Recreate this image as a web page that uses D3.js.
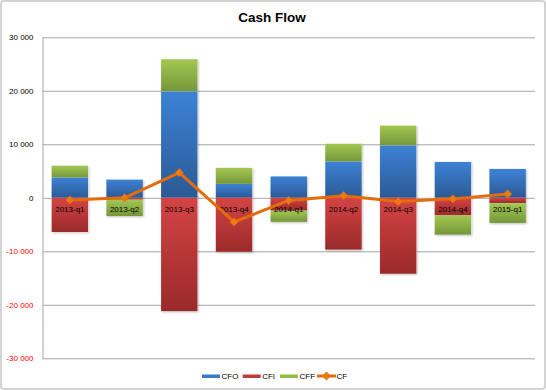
<!DOCTYPE html>
<html>
<head>
<meta charset="utf-8">
<script src="https://cdn.jsdelivr.net/npm/d3@7"></script>
<style>
  html, body { margin: 0; padding: 0; background: #fff; }
  svg { display: block; font-family: "Liberation Sans", Arial, sans-serif; }
</style>
</head>
<body>
<div id="chart"></div>
<script>
const categories = ["2013-q1","2013-q2","2013-q3","2013-q4","2014-q1","2014-q2","2014-q3","2014-q4","2015-q1"];
const cfo = [3800, 3400, 19900, 2600, 4000, 6800, 9800, 6700, 5400];
const cfi = [-6400, -350, -21200, -10100, -2400, -9700, -14200, -3300, -1000];
const cff = [2200, -3050, 6000, 3000, -2100, 3300, 3700, -3600, -3700];
const cf  = [-400, 0, 4700, -4500, -500, 400, -700, -200, 700];
const yTicks = [-30000, -20000, -10000, 0, 10000, 20000, 30000];
const seriesNames = ["CFO", "CFI", "CFF", "CF"];

const W = 546, H = 390;
const margin = { left: 42.5, right: 11, top: 37.3, bottom: 31.7 };
const innerW = W - margin.left - margin.right;
const innerH = H - margin.top - margin.bottom;

const svg = d3.select("#chart").append("svg").attr("width", W).attr("height", H);

// gradients
const defs = svg.append("defs");
const grads = {
  CFO: ["#3d82d6", "#2b5a95"],
  CFI: ["#d44444", "#9a2a2a"],
  CFF: ["#a2c852", "#76973a"]
};
Object.entries(grads).forEach(([k, c]) => {
  const g = defs.append("linearGradient").attr("id", "g" + k)
    .attr("x1", 0).attr("y1", 0).attr("x2", 0).attr("y2", 1);
  g.append("stop").attr("offset", "0%").attr("stop-color", c[0]);
  g.append("stop").attr("offset", "100%").attr("stop-color", c[1]);
});
const shadow = defs.append("filter").attr("id", "sh").attr("x", "-10%").attr("y", "-10%").attr("width", "130%").attr("height", "130%");
shadow.append("feDropShadow").attr("dx", 1).attr("dy", 1).attr("stdDeviation", 0.8).attr("flood-color", "#000").attr("flood-opacity", 0.25);

// outer border
svg.append("rect").attr("x", 1).attr("y", 1).attr("width", W - 2).attr("height", H - 2)
  .attr("rx", 3).attr("fill", "#fff").attr("stroke", "#d4d4d4").attr("stroke-width", 2);

// title
svg.append("text").attr("x", 272).attr("y", 22).attr("text-anchor", "middle")
  .attr("font-size", 13.5).attr("font-weight", "bold").attr("fill", "#000").text("Cash Flow");

const g = svg.append("g").attr("transform", `translate(${margin.left},${margin.top})`);

const x = d3.scaleBand().domain(categories).range([0, innerW]).paddingInner(1/3).paddingOuter(1/6);
const y = d3.scaleLinear().domain([-30000, 30000]).range([innerH, 0]);

const locale = d3.formatLocale({ decimal: ".", thousands: " ", grouping: [3], currency: ["", ""], minus: "-" });
const fmt = locale.format(",");

// gridlines
const grid = g.append("g").call(d3.axisLeft(y).tickValues(yTicks).tickSize(-innerW).tickFormat(""));
grid.select(".domain").remove();
grid.selectAll("line").attr("stroke", "#a6a6a6").attr("stroke-width", 1);

// y axis
const ya = g.append("g").call(d3.axisLeft(y).tickValues(yTicks).tickSize(0).tickPadding(9).tickFormat(fmt));
ya.select(".domain").attr("stroke", "#a6a6a6");
ya.selectAll("text").attr("font-size", 8).attr("font-family", "Liberation Sans, Arial, sans-serif")
  .attr("fill", d => d < 0 ? "#ff0000" : "#000");

// stacked bars (Excel-style: positives stack up, negatives stack down)
const series = [
  { name: "CFO", values: cfo },
  { name: "CFI", values: cfi },
  { name: "CFF", values: cff }
];
const segs = [];
categories.forEach((c, i) => {
  let pos = 0, neg = 0;
  series.forEach(s => {
    const v = s.values[i];
    let y0, y1;
    if (v >= 0) { y0 = pos; y1 = pos + v; pos = y1; }
    else { y0 = neg; y1 = neg + v; neg = y1; }
    segs.push({ cat: c, name: s.name, y0, y1 });
  });
});
const barG = g.append("g");
// shadows per whole bar
categories.forEach((c, i) => {
  const top = d3.max(segs.filter(s => s.cat === c), s => Math.max(s.y0, s.y1));
  const bot = d3.min(segs.filter(s => s.cat === c), s => Math.min(s.y0, s.y1));
  barG.append("rect").attr("x", x(c)).attr("width", x.bandwidth())
    .attr("y", y(top)).attr("height", y(bot) - y(top))
    .attr("fill", "#fff").attr("filter", "url(#sh)");
});
barG.selectAll("rect.seg").data(segs).join("rect").attr("class", "seg")
  .attr("x", d => x(d.cat)).attr("width", x.bandwidth())
  .attr("y", d => y(Math.max(d.y0, d.y1)))
  .attr("height", d => Math.abs(y(d.y0) - y(d.y1)))
  .attr("fill", d => `url(#g${d.name})`);

// category labels
const xa = g.append("g").attr("transform", `translate(0,${y(0)})`)
  .call(d3.axisBottom(x).tickSize(0).tickPadding(8.5));
xa.select(".domain").remove();
xa.selectAll("text").attr("font-size", 8).attr("font-family", "Liberation Sans, Arial, sans-serif").attr("fill", "#000");

// CF line
const line = d3.line().x((d, i) => x(categories[i]) + x.bandwidth() / 2).y(d => y(d));
g.append("path").datum(cf).attr("d", line).attr("fill", "none")
  .attr("stroke", "#e46c0a").attr("stroke-width", 3).attr("stroke-linejoin", "round");
const diamond = d3.symbol().type(d3.symbolDiamond2).size(42);
g.selectAll("path.mk").data(cf).join("path").attr("class", "mk")
  .attr("transform", (d, i) => `translate(${x(categories[i]) + x.bandwidth() / 2},${y(d)})`)
  .attr("d", diamond).attr("fill", "#ea7a16").attr("stroke", "#e46c0a").attr("stroke-width", 0.8);

// legend
const legend = svg.append("g").attr("transform", "translate(202,376)");
const legendX = [0, 40.7, 78, 115];
const legendColors = { CFO: "#3a78c6", CFI: "#c0393b", CFF: "#93bb47" };
seriesNames.forEach((n, i) => {
  const lg = legend.append("g").attr("transform", `translate(${legendX[i]},0)`);
  if (n !== "CF") {
    lg.append("rect").attr("x", 0).attr("y", -1.5).attr("width", 18).attr("height", 3.5).attr("fill", legendColors[n]);
  } else {
    lg.append("line").attr("x1", 0).attr("x2", 19).attr("y1", 0).attr("y2", 0)
      .attr("stroke", "#e46c0a").attr("stroke-width", 3);
    lg.append("path").attr("transform", "translate(9.5,0)").attr("d", diamond)
      .attr("fill", "#ea7a16").attr("stroke", "#e46c0a").attr("stroke-width", 0.8);
  }
  lg.append("text").attr("x", 19.5).attr("y", 3).attr("font-size", 8).attr("fill", "#000").text(n);
});
</script>
</body>
</html>
